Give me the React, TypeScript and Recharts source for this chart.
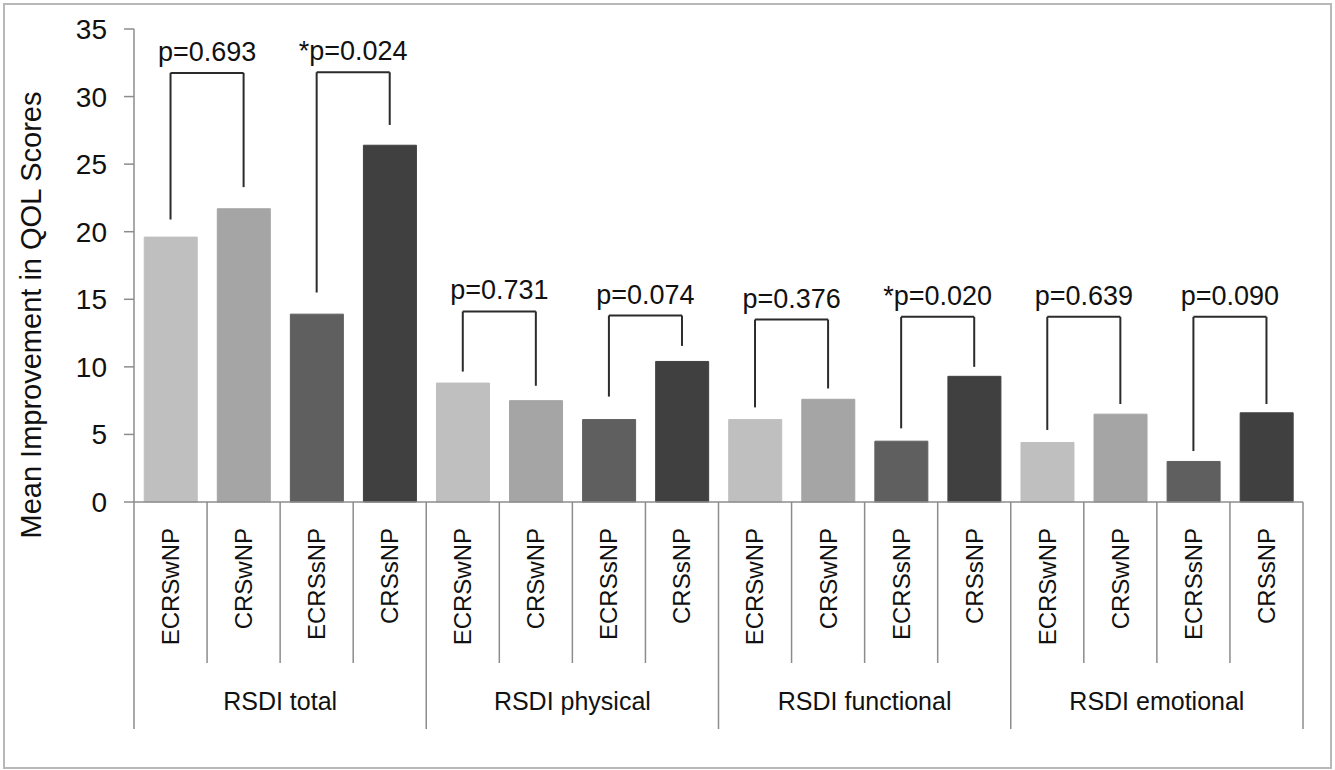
import React from 'react';
import { BarChart, Bar, Cell, XAxis, YAxis, ReferenceLine } from 'recharts';

const groups = ['RSDI total', 'RSDI physical', 'RSDI functional', 'RSDI emotional'];
const subgroups = ['ECRSwNP', 'CRSwNP', 'ECRSsNP', 'CRSsNP'];

// mean improvement per subgroup, one array per RSDI domain
const rsdiTotal = [19.6, 21.7, 13.9, 26.4];
const rsdiPhysical = [8.8, 7.5, 6.1, 10.4];
const rsdiFunctional = [6.1, 7.6, 4.5, 9.3];
const rsdiEmotional = [4.4, 6.5, 3.0, 6.6];

const yTicks = [0, 5, 10, 15, 20, 25, 30, 35];

// significance brackets: ECRSwNP vs CRSwNP, then ECRSsNP vs CRSsNP, per domain
const pLabels = ['p=0.693', '*p=0.024', 'p=0.731', 'p=0.074', 'p=0.376', '*p=0.020', 'p=0.639', 'p=0.090'];
const bracketTop = [31.75, 31.8, 14.1, 13.8, 13.5, 13.7, 13.7, 13.7];
const bracketLeftEnd = [20.9, 15.5, 9.65, 7.8, 7.0, 5.45, 5.33, 3.77];
const bracketRightEnd = [23.3, 27.9, 8.6, 11.55, 8.4, 10.0, 7.25, 7.25];

const COLORS = ['#BFBFBF', '#A5A5A5', '#5F5F5F', '#404040'];
const FONT = '"Liberation Sans", Arial, sans-serif';
const AXIS_GRAY = '#8C8C8C';
const LINE_DARK = '#2B2B2B';

const W = 1335;
const H = 770;
const MARGIN = { top: 29, right: 32, left: 0, bottom: 0 };
const Y_AXIS_W = 134;
const X_AXIS_H = 268;
const BAND = (W - Y_AXIS_W - MARGIN.right) / (groups.length * subgroups.length);

const series = [rsdiTotal, rsdiPhysical, rsdiFunctional, rsdiEmotional];
const data = groups.flatMap((g, gi) =>
    subgroups.map((s, si) => ({ key: `${g}|${s}`, group: g, sub: s, idx: si, value: series[gi][si] }))
);

const keyOf = (gi: number, si: number) => `${groups[gi]}|${subgroups[si]}`;

const renderCategoryTick = (props: any) => {
    const { x, y, payload, index } = props;
    const half = payload && payload.offset ? payload.offset : BAND / 2;
    const [group, sub] = String(payload.value).split('|');
    const pos = index % 4;
    const left = x - half;
    const last = index === data.length - 1;
    return (
        <g>
            <line x1={left} x2={left} y1={y} y2={y + (pos === 0 ? 227 : 161)} stroke={AXIS_GRAY} strokeWidth={1.5} />
            {last && (
                <line x1={x + half} x2={x + half} y1={y} y2={y + 227} stroke={AXIS_GRAY} strokeWidth={1.5} />
            )}
            <text
                transform={`translate(${x},${y + 26}) rotate(-90)`}
                textAnchor="end"
                dy="0.35em"
                fontSize={24}
                fontFamily={FONT}
                fill="#111"
            >
                {sub}
            </text>
            {pos === 1 && (
                <text x={x + half} y={y + 208} textAnchor="middle" fontSize={25} fontFamily={FONT} fill="#111">
                    {group}
                </text>
            )}
        </g>
    );
};

const renderYTitle = () => (
    <text
        transform="translate(31,315) rotate(-90)"
        textAnchor="middle"
        dy="0.35em"
        fontSize={29}
        fontFamily={FONT}
        fill="#111"
    >
        Mean Improvement in QOL Scores
    </text>
);

export default function App() {
    const brackets = pLabels.map((label, i) => {
        const gi = Math.floor(i / 2);
        const leftKey = keyOf(gi, (i % 2) * 2);
        const rightKey = keyOf(gi, (i % 2) * 2 + 1);
        return { label, leftKey, rightKey, top: bracketTop[i], l: bracketLeftEnd[i], r: bracketRightEnd[i] };
    });

    return (
        <div style={{ position: 'absolute', left: 0, top: 0, width: W, height: H, background: '#fff' }}>
            <div
                style={{
                    position: 'absolute',
                    left: 3,
                    top: 3,
                    width: W - 10,
                    height: H - 8,
                    border: '2px solid #B8B8B8',
                }}
            />
            <div style={{ position: 'absolute', left: 0, top: 0 }}>
                <BarChart width={W} height={H} data={data} margin={MARGIN} barCategoryGap="14%">
                    <XAxis
                        dataKey="key"
                        type="category"
                        interval={0}
                        height={X_AXIS_H}
                        tickLine={false}
                        tickSize={0}
                        tickMargin={0}
                        axisLine={{ stroke: AXIS_GRAY, strokeWidth: 1.5 }}
                        tick={renderCategoryTick}
                    />
                    <YAxis
                        width={Y_AXIS_W}
                        domain={[0, 35]}
                        ticks={yTicks}
                        interval={0}
                        tickSize={10}
                        tickMargin={17}
                        axisLine={{ stroke: AXIS_GRAY, strokeWidth: 1.5 }}
                        tickLine={{ stroke: AXIS_GRAY, strokeWidth: 1.5 }}
                        tick={{ fontSize: 28, fontFamily: FONT, fill: '#111' }}
                        label={renderYTitle}
                    />
                    <Bar dataKey="value" isAnimationActive={false}>
                        {data.map((d, i) => (
                            <Cell key={`cell-${i}`} fill={COLORS[d.idx]} stroke={COLORS[d.idx]} />
                        ))}
                    </Bar>
                    {brackets.map((b, i) => (
                        <ReferenceLine
                            key={`top-${i}`}
                            segment={[{ x: b.leftKey, y: b.top }, { x: b.rightKey, y: b.top }]}
                            stroke={LINE_DARK}
                            strokeWidth={2}
                            label={{ value: b.label, position: 'top', offset: 12, fontSize: 27, fontFamily: FONT, fill: '#111' }}
                        />
                    ))}
                    {brackets.map((b, i) => (
                        <ReferenceLine
                            key={`l-${i}`}
                            segment={[{ x: b.leftKey, y: b.top }, { x: b.leftKey, y: b.l }]}
                            stroke={LINE_DARK}
                            strokeWidth={2}
                        />
                    ))}
                    {brackets.map((b, i) => (
                        <ReferenceLine
                            key={`r-${i}`}
                            segment={[{ x: b.rightKey, y: b.top }, { x: b.rightKey, y: b.r }]}
                            stroke={LINE_DARK}
                            strokeWidth={2}
                        />
                    ))}
                </BarChart>
            </div>
        </div>
    );
}
